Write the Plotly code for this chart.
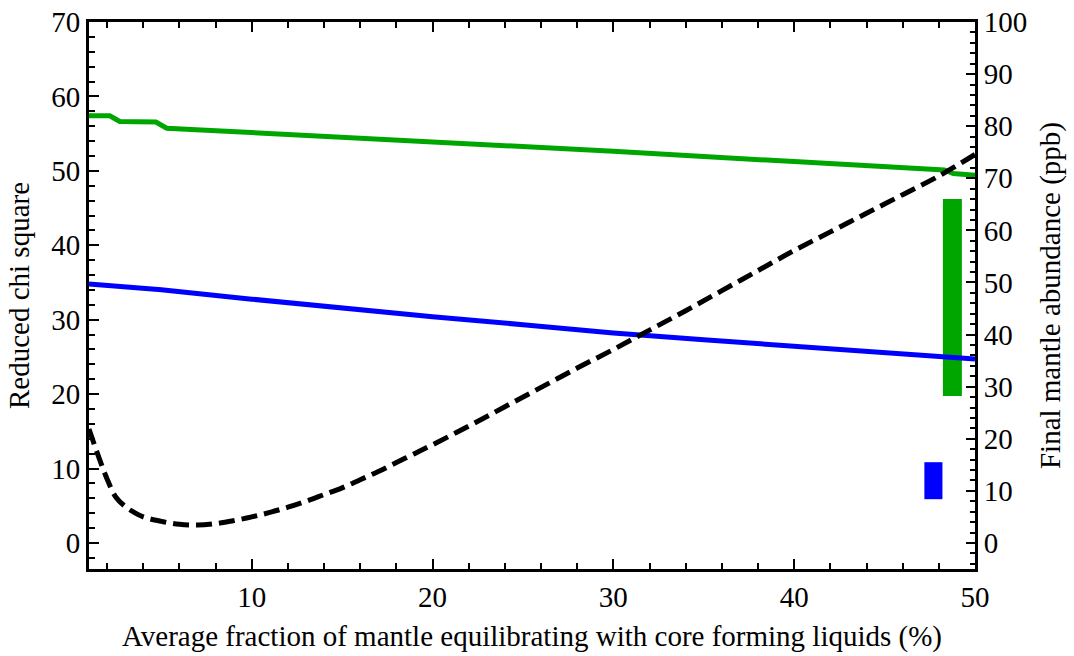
import plotly.graph_objects as go

# Chi-square curve (left axis)
chi_x = [1, 1.5, 2, 2.5, 3, 3.5, 4, 5, 6, 7, 8, 9, 10, 11, 12, 13, 14, 15, 16, 17, 18, 19, 20,
         22, 24, 26, 28, 30, 32, 34, 36, 38, 40, 42, 44, 46, 48, 50]
chi_y = [15.3, 11.8, 8.6, 6.1, 4.9, 4.1, 3.5, 2.9, 2.5, 2.4, 2.6, 3.0, 3.5, 4.1, 4.8, 5.6, 6.5, 7.4,
         8.5, 9.6, 10.8, 12.0, 13.2, 15.7, 18.3, 20.9, 23.5, 26.0, 28.6, 31.2, 33.9, 36.6, 39.3,
         41.8, 44.3, 46.8, 49.3, 52.2]

# Final mantle abundance curves (right axis)
green_x = [1, 2.15, 2.7, 4.7, 5.3, 10, 20, 30, 40, 48.3, 48.8, 50]
green_y = [82.0, 82.0, 80.9, 80.8, 79.6, 78.8, 77.1, 75.2, 73.2, 71.6, 70.9, 70.6]

blue_x = [1, 3, 5, 10, 15, 20, 25, 30, 35, 40, 45, 50]
blue_y = [49.7, 49.2, 48.6, 46.8, 45.0, 43.4, 41.9, 40.3, 39.0, 37.7, 36.5, 35.3]

# Observed ranges (right axis)
bar_x = [47.7, 48.75]
bar_low = [8.4, 28.2]
bar_high = [15.5, 66.0]
bar_width = [1.0, 1.05]
bar_colors = ["#0000FF", "#00A600"]

GREEN = "#00A600"
BLUE = "#0000FF"
FONT = "Liberation Serif"
TICK_SIZE = 29
TITLE_SIZE = 29

fig = go.Figure()

fig.add_trace(go.Bar(
    x=bar_x, y=[h - l for h, l in zip(bar_high, bar_low)], base=bar_low,
    width=bar_width, marker=dict(color=bar_colors, line=dict(width=0)),
    yaxis="y", showlegend=False, hoverinfo="skip"))

fig.add_trace(go.Scatter(x=blue_x, y=blue_y, mode="lines",
                         line=dict(color=BLUE, width=5), yaxis="y", showlegend=False))
fig.add_trace(go.Scatter(x=green_x, y=green_y, mode="lines",
                         line=dict(color=GREEN, width=5), yaxis="y", showlegend=False))
fig.add_trace(go.Scatter(x=chi_x, y=chi_y, mode="lines", line_shape="spline",
                         line=dict(color="black", width=5, dash="16px,7px"),
                         yaxis="y2", showlegend=False))

axis_common = dict(showgrid=False, zeroline=False, showline=True, linecolor="black",
                   linewidth=3, ticks="inside", tickcolor="black", tickwidth=2,
                   automargin=False,
                   tickfont=dict(family=FONT, size=TICK_SIZE, color="black"))

fig.update_layout(
    width=1074, height=656,
    margin=dict(l=89, r=99, t=22, b=87, autoexpand=False),
    paper_bgcolor="white", plot_bgcolor="white",
    font=dict(family=FONT, color="black"),
    barmode="overlay",
    xaxis=dict(range=[1, 50], dtick=10, tick0=0, ticklen=10, mirror="ticks",
               minor=dict(dtick=2, tick0=0, ticks="inside", ticklen=6, tickwidth=2, tickcolor="black"),
               title=dict(text="Average fraction of mantle equilibrating with core forming liquids (%)",
                          font=dict(family=FONT, size=TITLE_SIZE, color="black"), standoff=14),
               **axis_common),
    yaxis=dict(range=[-5, 100], dtick=10, tick0=0, side="right", ticklen=9,
               minor=dict(dtick=2, tick0=0, ticks="inside", ticklen=5, tickwidth=2, tickcolor="black"),
               title=dict(text="Final mantle abundance (ppb)",
                          font=dict(family=FONT, size=TITLE_SIZE, color="black"), standoff=14),
               **axis_common),
    yaxis2=dict(range=[-3.5, 70], dtick=10, tick0=0, side="left", overlaying="y", ticklen=10,
                minor=dict(dtick=2, tick0=0, ticks="inside", ticklen=6, tickwidth=2, tickcolor="black"),
                title=dict(text="Reduced chi square",
                           font=dict(family=FONT, size=TITLE_SIZE, color="black"), standoff=14),
                **axis_common),
)

fig.write_html("out.html")
